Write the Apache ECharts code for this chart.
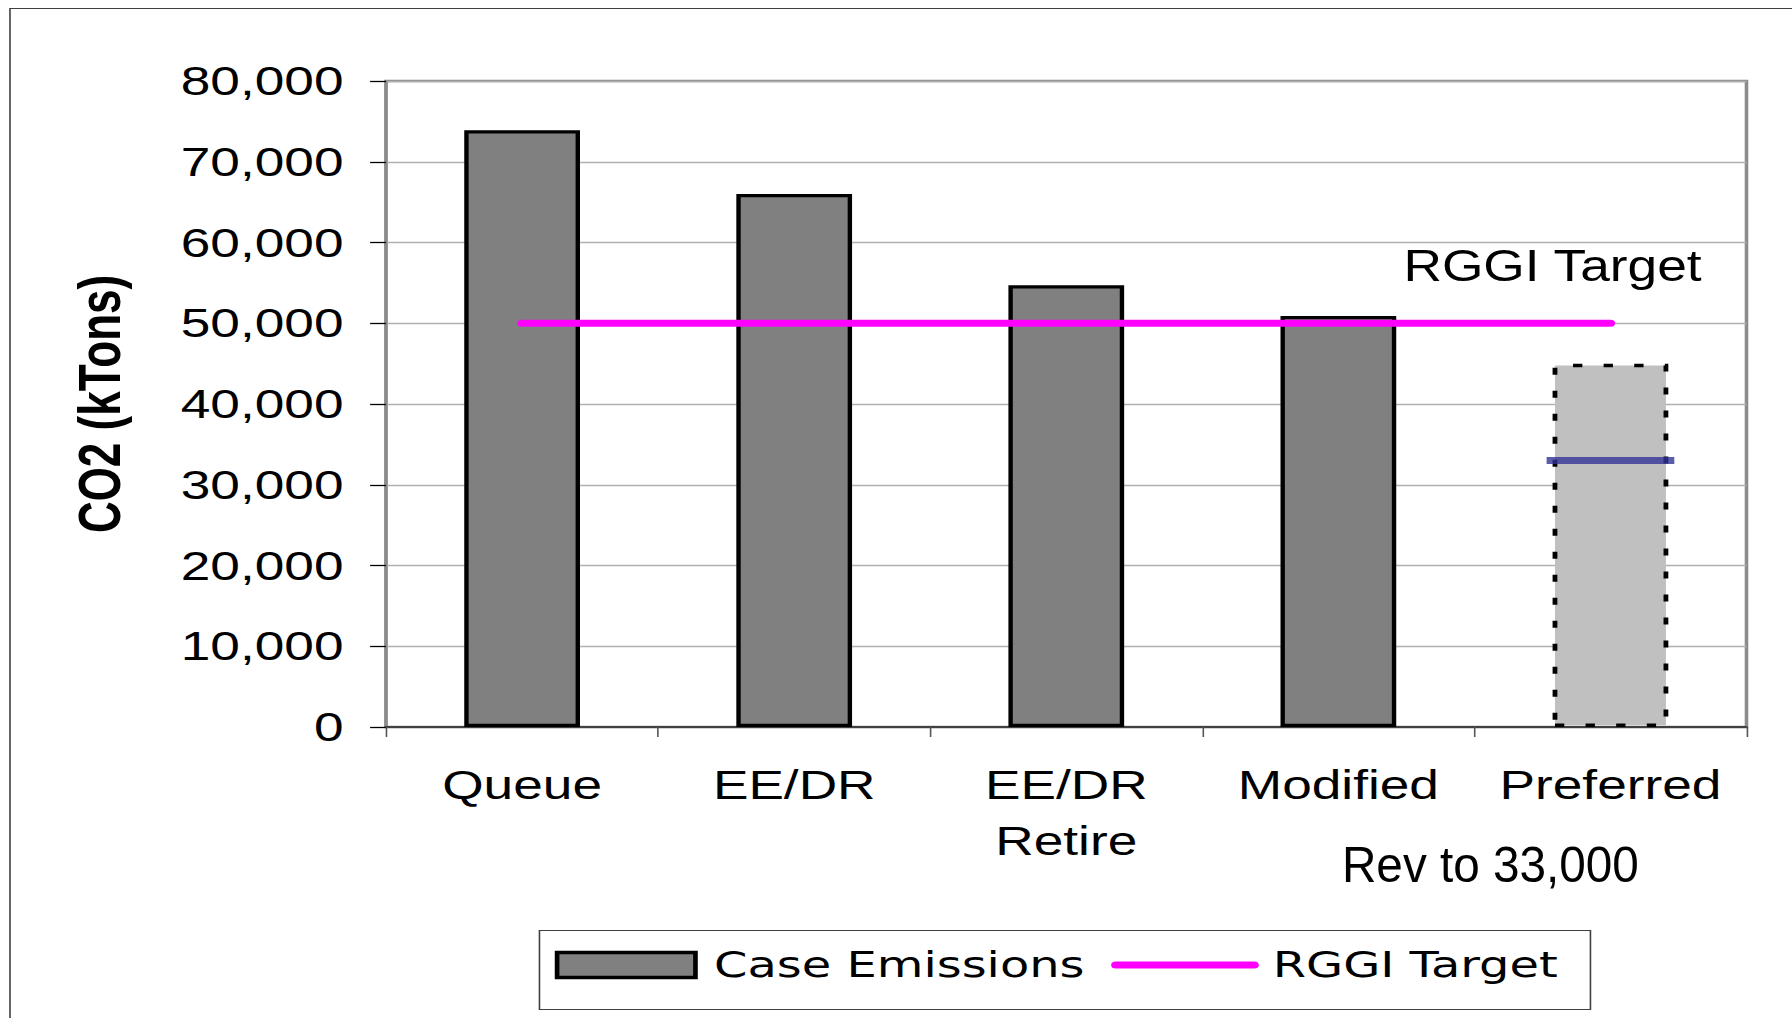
<!DOCTYPE html>
<html>
<head>
<meta charset="utf-8">
<script src="https://cdn.jsdelivr.net/npm/echarts@6/dist/echarts.min.js"></script>
<style>
  html, body { margin: 0; padding: 0; background: #fff; overflow: hidden; }
  #wrap { width: 1792px; height: 1018px; overflow: hidden; position: relative; }
  /* the chart is laid out narrow and widened horizontally, giving the broad lettering */
  #chart { width: 1347px; height: 1018px; transform: scaleX(1.33036); transform-origin: 0 0; }
</style>
</head>
<body>
<div id="wrap"><div id="chart"></div></div>
<script>
// ---- data ----
const categories = ['Queue', 'EE/DR', 'EE/DR\nRetire', 'Modified', 'Preferred'];
const caseEmissions = [73900, 66000, 54700, 50900, 45000];
const rggiTarget = [50000, 50000, 50000, 50000, 50000];
const revisedCategory = 'Preferred';
const revisedValue = 33000;
const yAxisMin = 0;
const yAxisMax = 80000;
const yAxisStep = 10000;

const FONT = '"Liberation Sans", Arial, sans-serif';

// the preferred case is a provisional bar: light fill, dotted outline
const barData = caseEmissions.map((v, i) => categories[i] === 'Preferred'
  ? { value: v, itemStyle: { color: '#c0c0c0', borderColor: '#000', borderWidth: 3.6, borderType: [7, 16] } }
  : v);

const chart = echarts.init(document.getElementById('chart'), null, { renderer: 'svg' });

chart.setOption({
  animation: false,
  backgroundColor: '#fff',
  grid: {
    left: 290.2, right: 34.2, top: 81, bottom: 291,
    show: true, borderColor: '#8c8c8c', borderWidth: 2.7,
    outerBoundsMode: 'none'
  },
  xAxis: {
    type: 'category',
    data: categories,
    axisLine: { lineStyle: { color: '#404040', width: 2 } },
    axisTick: { show: true, length: 10, lineStyle: { color: '#555', width: 1.2 } },
    axisLabel: { color: '#000', fontFamily: FONT, fontSize: 40, lineHeight: 56, margin: 30, interval: 0 },
    splitLine: { show: false }
  },
  yAxis: {
    type: 'value',
    min: yAxisMin, max: yAxisMax, interval: yAxisStep,
    name: 'CO2 (kTons)',
    nameLocation: 'middle',
    nameGap: 193,
    nameTextStyle: { color: '#000', fontFamily: FONT, fontWeight: 'bold', fontSize: 44 },
    axisLine: { show: true, lineStyle: { color: '#8c8c8c', width: 2.3 } },
    axisTick: { show: true, length: 12, lineStyle: { color: '#000', width: 1.3 } },
    axisLabel: {
      color: '#000', fontFamily: FONT, fontSize: 40, margin: 32,
      formatter: v => v.toLocaleString('en-US')
    },
    splitLine: { lineStyle: { color: '#b0b0b0', width: 1.3 } }
  },
  legend: {
    left: 417, top: 947, padding: 0,
    itemGap: 20, itemWidth: 104, itemHeight: 25,
    selectedMode: false,
    textStyle: { color: '#000', fontFamily: '"DejaVu Sans", sans-serif', fontSize: 36, padding: [0, 0, 0, 9] },
    data: [
      { name: 'Case Emissions', icon: 'rect', itemStyle: { color: '#808080', borderColor: '#000', borderWidth: 3.5 } },
      { name: 'RGGI Target', itemStyle: { opacity: 0 }, lineStyle: { color: '#ff00ff', width: 7, cap: 'round' } }
    ]
  },
  series: [
    {
      name: 'Case Emissions',
      type: 'bar',
      data: barData,
      barWidth: 87,
      itemStyle: { color: '#808080', borderColor: '#000', borderWidth: 3.3 }
    },
    {
      name: 'RGGI Target',
      type: 'line',
      data: rggiTarget,
      symbol: 'none',
      itemStyle: { color: '#ff00ff' },
      lineStyle: { color: '#ff00ff', width: 7, cap: 'round' },
      z: 3
    },
    {
      name: 'Revised',
      type: 'scatter',
      data: [[revisedCategory, revisedValue]],
      symbol: 'rect',
      symbolSize: [96, 7],
      itemStyle: { color: '#333399' },
      z: 4
    }
  ],
  graphic: [
    { type: 'rect', left: 5, top: 6, silent: true,
      shape: { width: 1340.5, height: 1100 },
      style: { fill: 'none', stroke: '#404040', lineWidth: 1.2 } },
    { type: 'rect', left: 403, top: 928, silent: true,
      shape: { width: 790, height: 79 },
      style: { fill: 'none', stroke: '#404040', lineWidth: 1.2 } },
    { type: 'text', x: 1054.9, y: 265.8, scaleX: 0.911, silent: true,
      style: { text: 'RGGI Target', fill: '#000', font: '44px ' + FONT, align: 'left', verticalAlign: 'middle' } },
    { type: 'text', x: 1120.3, y: 864.5, scaleX: 0.717, silent: true,
      style: { text: 'Rev to 33,000', fill: '#000', font: '50px ' + FONT, align: 'center', verticalAlign: 'middle' } }
  ]
});
</script>
</body>
</html>
